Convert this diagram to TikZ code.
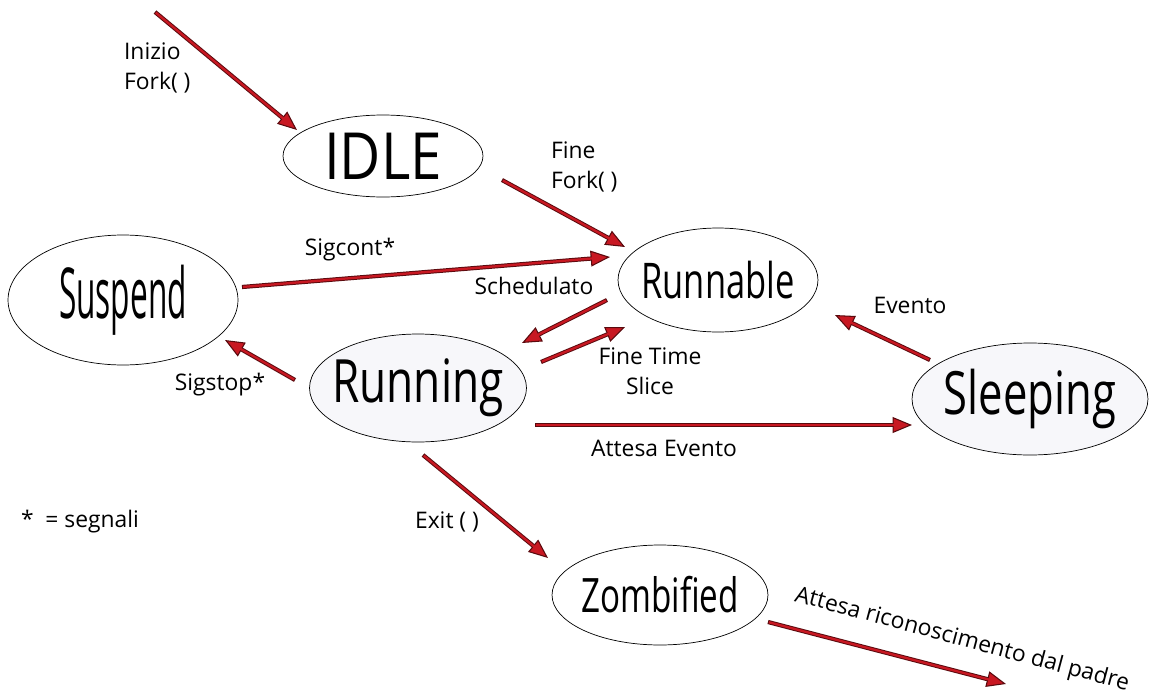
\documentclass[tikz,border=0pt]{standalone}
\usepackage{fontspec}
\setmainfont{Open Sans}
\usetikzlibrary{arrows.meta,positioning,shapes.geometric,calc}
\definecolor{sigred}{RGB}{200,24,34}
\definecolor{sigedge}{RGB}{90,10,14}
\definecolor{runfill}{RGB}{247,247,250}
% nome di stato: fattore orizzontale, corpo, testo
\newcommand\stname[3]{\makebox[0pt]{\scalebox{#1}[1]{\fontsize{#2}{#2}\selectfont #3}}}

\begin{document}
\begin{tikzpicture}[x=0.02cm,y=-0.02cm,
  >={Triangle[length=11pt,width=9pt,line width=0.6pt,fill=sigred]},
  state/.style={draw,ellipse,thin,fill=white,inner sep=0pt},
  sig/.style={->,draw=sigedge,line width=2.4pt,
    postaction={draw=sigred,line width=1.3pt,-,shorten >=10pt,shorten <=0.6pt}},
  lbl/.style={font=\fontsize{13}{17}\selectfont,inner sep=1pt}]
\useasboundingbox (0,0) rectangle (1150,700);
% stati
\node[state,minimum width=4cm,minimum height=1.64cm] (idle) at (383,156) {\stname{0.87}{37}{IDLE}};
\node[state,minimum width=4cm,minimum height=2.08cm] (runnable) at (718,280) {\stname{0.70}{28}{Runnable}};
\node[state,minimum width=4.6cm,minimum height=2.6cm] (suspend) at (123,300) {\stname{0.45}{40}{Suspend}};
\node[state,fill=runfill,minimum width=4.34cm,minimum height=2.16cm] (running) at (418,388) {\stname{0.74}{34}{Running}};
\node[state,fill=runfill,minimum width=4.72cm,minimum height=2.24cm] (sleeping) at (1030,399) {\stname{0.73}{34}{Sleeping}};
\node[state,minimum width=4.32cm,minimum height=2cm] (zombie) at (660,595) {\stname{0.70}{27}{Zombified}};
\coordinate (start) at (155,12);
\coordinate (padre) at (1006,684);
% transizioni
\draw[sig] (start) -- ([shift={(-86,-26)}]idle.center);
\draw[sig] ([shift={(119,24)}]idle.center) -- ([shift={(-93,-33)}]runnable.center);
\draw[sig] ([shift={(119,-13)}]suspend.center) -- ([shift={(-108,-23)}]runnable.center);
\draw[sig] ([shift={(-111,20)}]runnable.center) -- ([shift={(104,-45)}]running.center);
\draw[sig] ([shift={(123,-26)}]running.center) -- ([shift={(-93,47)}]runnable.center);
\draw[sig] ([shift={(-123,-8)}]running.center) -- ([shift={(102,40)}]suspend.center);
\draw[sig] ([shift={(117,37)}]running.center) -- ([shift={(-118,26)}]sleeping.center);
\draw[sig] ([shift={(-100,-39)}]sleeping.center) -- ([shift={(117,35)}]runnable.center);
\draw[sig] ([shift={(5,67)}]running.center) -- ([shift={(-112,-37)}]zombie.center);
\draw[sig] ([shift={(108,27)}]zombie.center) -- (padre);
% etichette
\node[lbl,align=left,anchor=west] (lInizio) at (122,68) {Inizio\\Fork( )};
\node[lbl,align=left,anchor=west] (lFine) at (549,167) {Fine\\Fork( )};
\node[lbl] (lSigcont) at (350,250) {Sigcont*};
\node[lbl] (lSched) at (534,286) {Schedulato};
\node[lbl,align=center] (lSlice) at (650,371) {Fine Time\\Slice};
\node[lbl] (lSigstop) at (220,385) {Sigstop*};
\node[lbl] (lEvento) at (910,305) {Evento};
\node[lbl] (lAttesa) at (664,448) {Attesa Evento};
\node[lbl] (lExit) at (447,522) {Exit ( )};
\node[lbl] (lSegnali) at (80,522) {*\ \ = segnali};
\node[lbl,rotate=-15] (lPadre) at (962,640) {Attesa riconoscimento dal padre};
\end{tikzpicture}
\end{document}
